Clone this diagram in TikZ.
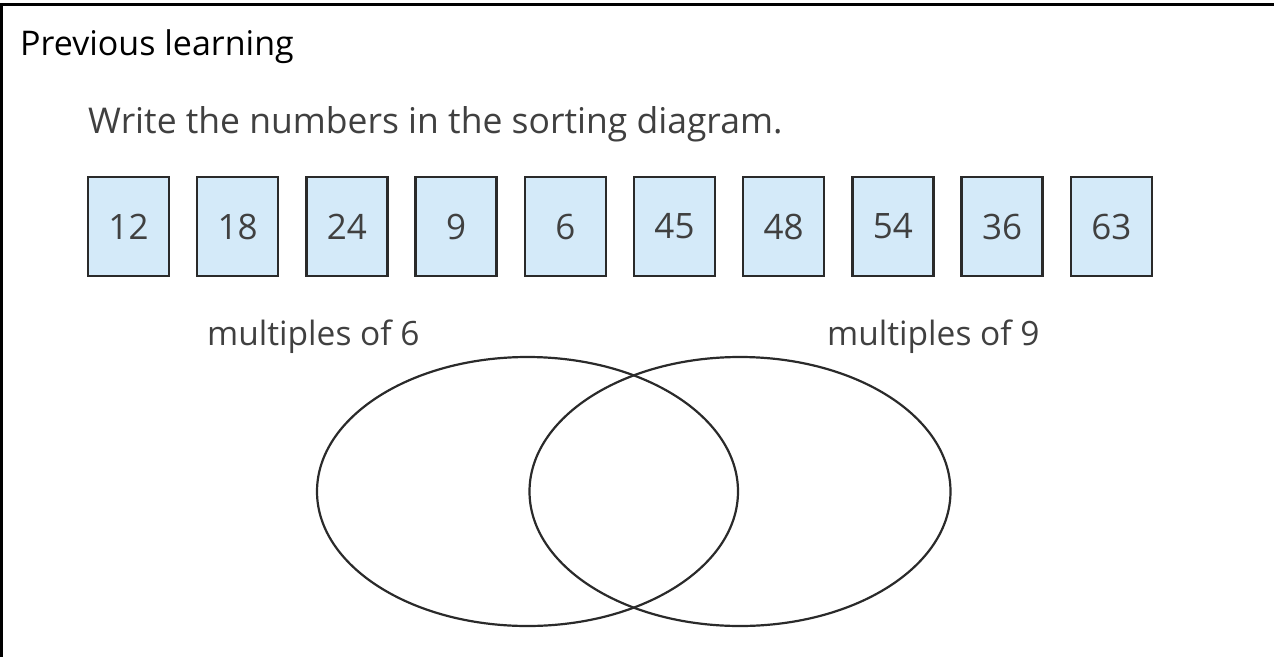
\documentclass[tikz,border=0pt]{standalone}
\usepackage{fontspec}
\setmainfont{Open Sans}
\usetikzlibrary{shapes.geometric}
\definecolor{boxfill}{HTML}{D4EAF9}
\definecolor{txt}{HTML}{404040}
\definecolor{edge}{HTML}{2A2A2A}
\tikzset{
  numbox/.style={draw=edge, line width=2.5pt, fill=boxfill, minimum width=81pt, minimum height=99pt, inner sep=0pt, text=txt, font=\fontsize{35}{35}\selectfont},
  setring/.style={draw=edge, line width=2.2pt, ellipse, minimum width=421pt, minimum height=269pt, inner sep=0pt},
  label/.style={text=txt, inner sep=0pt, anchor=base west, font=\fontsize{33.5}{33.5}\selectfont},
}
\begin{document}
\begin{tikzpicture}[x=1pt,y=-1pt]
\useasboundingbox (0,0) rectangle (1274,656);
\draw[line width=3pt, black] (1,700) -- (1,4) -- (1280,4);
\node[anchor=base west, inner sep=0pt, font=\fontsize{34}{34}\selectfont] (title) at (20,55) {Previous learning};
\node[label, font=\fontsize{35.5}{35.5}\selectfont] (instr) at (88,133) {Write the numbers in the sorting diagram.};
\foreach \n [count=\i from 0] in {12,18,24,9,6,45,48,54,36,63} {
  \node[numbox] (b\i) at ({128.5+109.2*\i},226.5) {\n};
}
\node[setring] (sixes) at (527.5,491.5) {};
\node[setring] (nines) at (740,491.5) {};
\node[label] (l6) at (207,345) {multiples of 6};
\node[label] (l9) at (827,345) {multiples of 9};
\end{tikzpicture}
\end{document}
